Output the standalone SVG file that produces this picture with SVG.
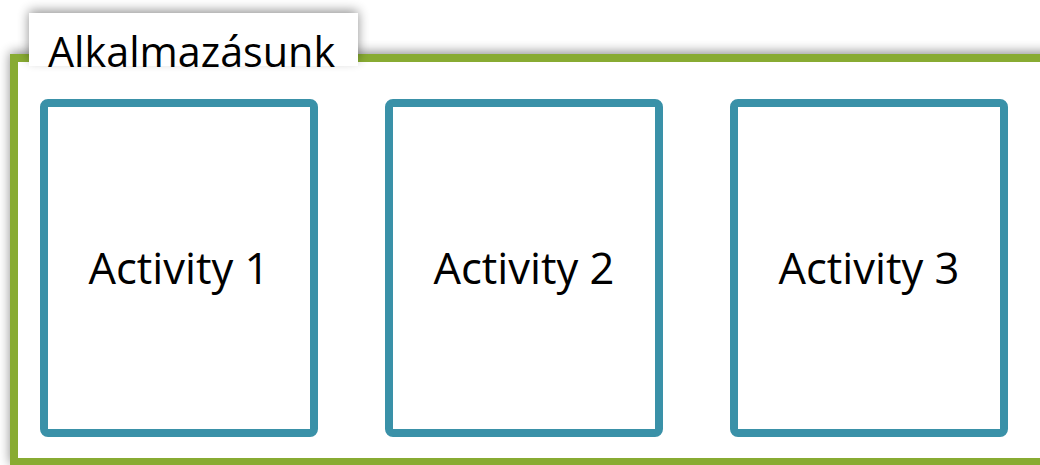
<svg xmlns="http://www.w3.org/2000/svg" width="1040" height="465" viewBox="0 0 1040 465">
<defs>
<filter id="sh" x="-10%" y="-30%" width="120%" height="160%">
<feGaussianBlur in="SourceAlpha" stdDeviation="6"/>
<feOffset dx="0" dy="-2" result="b"/>
<feComponentTransfer><feFuncA type="linear" slope="0.45"/></feComponentTransfer>
<feMerge><feMergeNode/><feMergeNode in="SourceGraphic"/></feMerge>
</filter>
<style>
.act{fill:#fff;stroke:#3A91A8;stroke-width:8}
.lbl{font-family:"Open Sans","Liberation Sans",sans-serif;font-size:43.5px;fill:#000;text-anchor:middle}
</style>
</defs>
<rect width="1040" height="465" fill="#fff"/>
<g id="frame">
<rect x="14" y="58" width="1040" height="404" fill="#fff" stroke="#88AB32" stroke-width="8" filter="url(#sh)"/>
<rect x="29" y="13" width="329" height="49" fill="#fff" filter="url(#sh)"/>
<rect x="29" y="40" width="329" height="26" fill="#fff"/>
<text x="48" y="67" font-family="'Open Sans','Liberation Sans',sans-serif" font-size="41.3" fill="#000">Alkalmazásunk</text>
</g>
<g id="connectors"></g>
<g id="activity1">
<rect class="act" x="44" y="103" width="270" height="330" rx="4"/>
<text class="lbl" x="179" y="284">Activity 1</text>
</g>
<g id="activity2">
<rect class="act" x="389" y="103" width="270" height="330" rx="4"/>
<text class="lbl" x="524" y="284">Activity 2</text>
</g>
<g id="activity3">
<rect class="act" x="734" y="103" width="270" height="330" rx="4"/>
<text class="lbl" x="869" y="284">Activity 3</text>
</g>
</svg>
